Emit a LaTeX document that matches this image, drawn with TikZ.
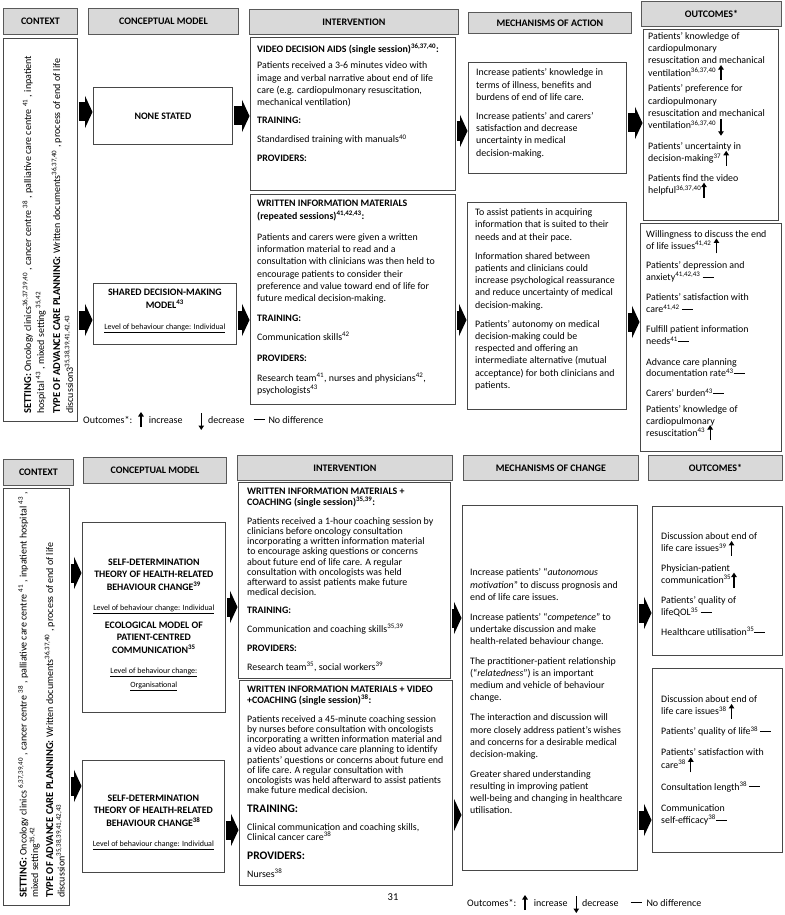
\documentclass[tikz,border=0pt]{standalone}
\usepackage{fontspec}
\setmainfont{Carlito}
\usetikzlibrary{arrows.meta,calc}
\newcommand\upA{\smash{\tikz[baseline=0pt]\draw[line width=1.1pt,-{Triangle[length=4.5pt,width=5.5pt]}](0pt,-4pt)--(0pt,11pt);}}
\newcommand\dnA{\smash{\tikz[baseline=0pt]\draw[line width=1.1pt,-{Triangle[length=4.5pt,width=5.5pt]}](0pt,10pt)--(0pt,-7pt);}}
\newcommand\ndA{\rule[3pt]{11pt}{0.8pt}}
\newcommand\sps[1]{\textsuperscript{#1}}
\newcommand\lvl[1]{{\mdseries\fontsize{8}{10}\selectfont\underline{#1}}}
\begin{document}
\begin{tikzpicture}[x=1pt,y=-1pt,
  hdr/.style={draw=gray!70!black, fill=gray!30, line width=0.9pt, inner sep=0pt, anchor=north west, font=\fontsize{10}{12}\selectfont\bfseries},
  bx/.style={draw=black!72, line width=0.75pt, inner sep=0pt, anchor=north west},
  txt/.style={anchor=north west, align=left, inner sep=0pt, font=\fontsize{9.9}{12.3}\selectfont},
  txtb/.style={anchor=north west, align=left, inner sep=0pt, font=\fontsize{9.9}{10.2}\selectfont},
  ctr/.style={align=center, inner sep=0pt, font=\fontsize{9.9}{12.4}\selectfont\bfseries},
  ctxt/.style={rotate=90, anchor=north west, align=left, inner sep=0pt, font=\fontsize{10}{13}\selectfont},
  blk/.style={line width=19pt, -{Triangle[length=7.5pt,width=32pt]}, black, shorten <=1pt, shorten >=0.5pt}]
\fill[white] (0,0) rectangle (784,915);
\useasboundingbox (0,0) rectangle (784,915);

% ---------------- TOP HEADERS ----------------
\node[hdr, minimum width=74pt, minimum height=26pt] (hC1) at (3,8) {CONTEXT};
\node[hdr, minimum width=150pt, minimum height=26pt] (hM1) at (88,8) {CONCEPTUAL MODEL};
\node[hdr, minimum width=209pt, minimum height=25pt] (hI1) at (249,9) {INTERVENTION};
\node[hdr, minimum width=163pt, minimum height=21pt] (hA1) at (468,12) {MECHANISMS OF ACTION};
\node[hdr, minimum width=140pt, minimum height=25pt] (hO1) at (641,1) {OUTCOMES*};

% ---------------- TOP BOXES ----------------
\node[bx, minimum width=74pt, minimum height=383pt] (ctx1) at (3,38) {};
\node[bx, minimum width=139pt, minimum height=57pt] (cm1a) at (93,87) {};
\node[bx, minimum width=143pt, minimum height=61pt] (cm1b) at (93,283) {};
\node[bx, minimum width=205pt, minimum height=153pt] (in1a) at (250,37) {};
\node[bx, minimum width=205pt, minimum height=210pt] (in1b) at (250,194) {};
\node[bx, minimum width=158pt, minimum height=111pt] (me1a) at (468,62) {};
\node[bx, minimum width=159pt, minimum height=207pt] (me1b) at (467,202) {};
\node[bx, minimum width=135pt, minimum height=191pt] (ou1a) at (643,29) {};
\node[bx, minimum width=141pt, minimum height=228pt] (ou1b) at (640,223) {};

% top context text
\node[ctxt] (tctx1) at (22.5,414) {{\fontsize{10.5}{13}\selectfont\bfseries SETTING:} Oncology clinics\sps{36,37,39,40} , cancer centre \sps{38} , palliative care centre \sps{41} , inpatient\\
hospital \sps{43} , mixed setting \sps{35,42}\\[3pt]
{\fontsize{10.5}{13}\selectfont\bfseries TYPE OF ADVANCE CARE PLANNING:} Written documents\sps{36,37,40} , process of end of life\\
discussion3\sps{35,38,39,41,42,43}};

% conceptual model texts
\node[ctr] (tcm1a) at (cm1a.center) {NONE STATED};
\node[ctr] (tcm1b) at ($(cm1b.center)+(0,-3)$) {SHARED DECISION-MAKING\\ MODEL\sps{43}\\[8.6pt] \lvl{Level of behaviour change: Individual}};

% intervention texts
\node[txt] (tin1a) at ($(in1a.north west)+(7,6.5)$) {\textbf{VIDEO DECISION AIDS (single session)\sps{36,37,40}:}\\[4.6pt]
Patients received a 3-6 minutes video with\\
image and verbal narrative about end of life\\
care (e.g. cardiopulmonary resuscitation,\\
mechanical ventilation)\\[5.6pt]
\textbf{TRAINING:}\\[6.6pt]
Standardised training with manuals\sps{40}\\[6.6pt]
\textbf{PROVIDERS:}};
\node[txt] (tin1b) at ($(in1b.north west)+(7,5.6)$) {\textbf{WRITTEN INFORMATION MATERIALS}\\[0.7pt]
\textbf{(repeated sessions)\sps{41,42,43}:}\\[8.6pt]
Patients and carers were given a written\\
information material to read and a\\
consultation with clinicians was then held to\\
encourage patients to consider their\\
preference and value toward end of life for\\
future medical decision-making.\\[7.6pt]
\textbf{TRAINING:}\\[6.6pt]
Communication skills\sps{42}\\[8.6pt]
\textbf{PROVIDERS:}\\[7.6pt]
Research team\sps{41}, nurses and physicians\sps{42},\\
psychologists\sps{43}};

% mechanisms texts
\node[txt] (tme1a) at ($(me1a.north west)+(8,6.6)$) {Increase patients’ knowledge in\\
terms of illness, benefits and\\
burdens of end of life care.\\[6.5pt]
Increase patients’ and carers’\\
satisfaction and decrease\\
uncertainty in medical\\
decision-making.};
\node[txt] (tme1b) at ($(me1b.north west)+(8,6.6)$) {To assist patients in acquiring\\
information that is suited to their\\
needs and at their pace.\\[6.5pt]
Information shared between\\
patients and clinicians could\\
increase psychological reassurance\\
and reduce uncertainty of medical\\
decision-making.\\[6.5pt]
Patients’ autonomy on medical\\
decision-making could be\\
respected and offering an\\
intermediate alternative (mutual\\
acceptance) for both clinicians and\\
patients.};

% outcome texts
\node[txt] (tou1a) at ($(ou1a.north west)+(5,3)$) {Patients’ knowledge of\\
cardiopulmonary\\
resuscitation and mechanical\\
ventilation\sps{36,37,40}\ \upA\\[3.5pt]
Patients’ preference for\\
cardiopulmonary\\
resuscitation and mechanical\\
ventilation\sps{36,37,40}\ \dnA\\[8.4pt]
Patients’ uncertainty in\\
decision-making\sps{37}\ \upA\\[7.3pt]
Patients find the video\\
helpful\sps{36,37,40}\upA};
\node[txt, font=\fontsize{9.9}{11.8}\selectfont] (tou1b) at ($(ou1b.north west)+(6,7.6)$) {Willingness to discuss the end\\
of life issues\sps{41,42}\ \upA\\[7.5pt]
Patients’ depression and\\
anxiety\sps{41,42,43}\ \ndA\\[8.5pt]
Patients’ satisfaction with\\
care\sps{41,42}\ \ndA\\[8.5pt]
Fulfill patient information\\
needs\sps{41}\ndA\\[8.5pt]
Advance care planning\\
documentation rate\sps{43}\ndA\\[8pt]
Carers’ burden\sps{43}\ndA\\[4pt]
Patients’ knowledge of\\
cardiopulmonary\\
resuscitation\sps{43}\ \upA};

% top legend
\node[anchor=base west, inner sep=0pt, font=\fontsize{10}{12}\selectfont] (leg1) at (83,423) {Outcomes*:\hspace{6pt}\upA\hspace{5pt}increase\hspace{16pt}\dnA\hspace{4pt}decrease\hspace{9pt}\ndA\hspace{4pt}No difference};

% top block arrows
\draw[blk] (ctx1.east |- 0,112) -- (cm1a.west |- 0,112);
\draw[blk] (ctx1.east |- 0,320) -- (cm1b.west |- 0,320);
\draw[blk] (cm1a.east |- 0,116) -- (in1a.west |- 0,116);
\draw[blk] (cm1b.east |- 0,320) -- (in1b.west |- 0,320);
\draw[blk] (in1a.east |- 0,131) -- (me1a.west |- 0,131);
\draw[blk] (in1b.east |- 0,320) -- (me1b.west |- 0,320);
\draw[blk] (me1a.east |- 0,123) -- (ou1a.west |- 0,123);
\draw[blk] (me1b.east |- 0,322) -- (ou1b.west |- 0,322);

% ---------------- BOTTOM HEADERS ----------------
\node[hdr, minimum width=70pt, minimum height=26pt] (hC2) at (3,459) {CONTEXT};
\node[hdr, minimum width=143pt, minimum height=26pt] (hM2) at (83,457) {CONCEPTUAL MODEL};
\node[hdr, minimum width=215pt, minimum height=25pt] (hI2) at (237,455) {INTERVENTION};
\node[hdr, minimum width=175pt, minimum height=25pt] (hA2) at (463,455) {MECHANISMS OF CHANGE};
\node[hdr, minimum width=134pt, minimum height=25pt] (hO2) at (648,455) {OUTCOMES*};

% ---------------- BOTTOM BOXES ----------------
\node[bx, minimum width=66pt, minimum height=417pt] (ctx2) at (3,488) {};
\node[bx, minimum width=143pt, minimum height=190pt] (cm2a) at (82,522) {};
\node[bx, minimum width=142pt, minimum height=112pt] (cm2b) at (82,760) {};
\node[bx, minimum width=212pt, minimum height=196pt] (in2a) at (238,482) {};
\node[bx, minimum width=213pt, minimum height=205pt] (in2b) at (239,680) {};
\node[bx, minimum width=175pt, minimum height=365pt] (me2) at (462,505) {};
\node[bx, minimum width=130pt, minimum height=149pt] (ou2a) at (652,506) {};
\node[bx, minimum width=130pt, minimum height=184pt] (ou2b) at (652,668) {};

% bottom context text
\node[ctxt, font=\fontsize{10}{11.5}\selectfont] (tctx2) at (18,898) {{\fontsize{10.5}{11.5}\selectfont\bfseries SETTING:} Oncology clinics \sps{6,37,39,40} , cancer centre \sps{38} , palliative care centre \sps{41} , inpatient hospital \sps{43} ,\\
mixed setting\sps{35,42}\\[3.5pt]
{\fontsize{10.5}{11.5}\selectfont\bfseries TYPE OF ADVANCE CARE PLANNING:} Written documents\sps{36,37,40} , process of end of life\\
discussion\sps{35,38,39,41,42,43}};

% bottom conceptual texts
\node[ctr, anchor=north] (tcm2a) at ($(cm2a.north)+(0,36.6)$) {SELF-DETERMINATION\\ THEORY OF HEALTH-RELATED\\ BEHAVIOUR CHANGE\sps{39}\\[7.8pt]
\lvl{Level of behaviour change: Individual}\\[5.6pt]
ECOLOGICAL MODEL OF\\ PATIENT-CENTRED\\ COMMUNICATION\sps{35}\\[7.8pt]
\lvl{Level of behaviour change:}\\[1.6pt] \lvl{Organisational}};
\node[ctr, anchor=north] (tcm2b) at ($(cm2b.north)+(0,34.6)$) {SELF-DETERMINATION\\ THEORY OF HEALTH-RELATED\\ BEHAVIOUR CHANGE\sps{38}\\[7.6pt]
\lvl{Level of behaviour change: Individual}};

% bottom intervention texts
\node[txtb] (tin2a) at ($(in2a.north west)+(9,5.6)$) {\textbf{WRITTEN INFORMATION MATERIALS +}\\[0.8pt]
\textbf{COACHING (single session)\sps{35,39}:}\\[8.8pt]
Patients received a 1-hour coaching session by\\
clinicians before oncology consultation\\
incorporating a written information material\\
to encourage asking questions or concerns\\
about future end of life care. A regular\\
consultation with oncologists was held\\
afterward to assist patients make future\\
medical decision.\\[7.4pt]
\textbf{TRAINING:}\\[8.8pt]
Communication and coaching skills\sps{35,39}\\[8.8pt]
\textbf{PROVIDERS:}\\[8.8pt]
Research team\sps{35}, social workers\sps{39}};
\node[txtb] (tin2b) at ($(in2b.north west)+(8,5.6)$) {\textbf{WRITTEN INFORMATION MATERIALS + VIDEO}\\[0.8pt]
\textbf{+COACHING (single session)\sps{38}:}\\[8.8pt]
Patients received a 45-minute coaching session\\
by nurses before consultation with oncologists\\
incorporating a written information material and\\
a video about advance care planning to identify\\
patients’ questions or concerns about future end\\
of life care. A regular consultation with\\
oncologists was held afterward to assist patients\\
make future medical decision.\\[8.4pt]
{\fontsize{11.5}{12}\selectfont\bfseries TRAINING:}\\[7.8pt]
Clinical communication and coaching skills,\\
Clinical cancer care\sps{38}\\[8.8pt]
{\fontsize{11.5}{12}\selectfont\bfseries PROVIDERS:}\\[7.8pt]
Nurses\sps{38}};

% bottom mechanisms text
\node[txt, font=\fontsize{9.9}{12.1}\selectfont] (tme2) at ($(me2.north west)+(8,63.6)$) {Increase patients’ “\textit{autonomous}\\
\textit{motivation}” to discuss prognosis and\\
end of life care issues.\\[8pt]
Increase patients’ “\textit{competence}” to\\
undertake discussion and make\\
health-related behaviour change.\\[8pt]
The practitioner-patient relationship\\
(“\textit{relatedness}”) is an important\\
medium and vehicle of behaviour\\
change.\\[8pt]
The interaction and discussion will\\
more closely address patient’s wishes\\
and concerns for a desirable medical\\
decision-making.\\[8pt]
Greater shared understanding\\
resulting in improving patient\\
well-being and changing in healthcare\\
utilisation.};

% bottom outcomes texts
\node[txt] (tou2a) at ($(ou2a.north west)+(9,26.6)$) {Discussion about end of\\
life care issues\sps{39}\ \upA\\[7pt]
Physician-patient\\
communication\sps{35}\upA\\[7.5pt]
Patients’ quality of\\
lifeQOL\sps{35}\ \ndA\\[7.5pt]
Healthcare utilisation\sps{35}\ndA};
\node[txt] (tou2b) at ($(ou2b.north west)+(9,27.6)$) {Discussion about end of\\
life care issues\sps{38}\ \upA\\[7.7pt]
Patients’ quality of life\sps{38}\ \ndA\\[8.7pt]
Patients’ satisfaction with\\
care\sps{38}\ \upA\\[9.7pt]
Consultation length\sps{38}\ \ndA\\[8.7pt]
Communication\\
self-efficacy\sps{38}\ndA};

% bottom legend and page number
\node[anchor=base west, inner sep=0pt, font=\fontsize{10}{12}\selectfont] (leg2) at (467,906) {Outcomes*:\hspace{6pt}\upA\hspace{6pt}increase\hspace{6pt}\dnA\hspace{3pt}decrease\hspace{12pt}\ndA\hspace{5pt}No difference};
\node[inner sep=0pt, font=\fontsize{10.5}{12}\selectfont] (pg) at (393,897) {31};

% bottom block arrows
\draw[blk] (ctx2.east |- 0,573) -- (cm2a.west |- 0,573);
\draw[blk] (ctx2.east |- 0,786) -- (cm2b.west |- 0,786);
\draw[blk] (cm2a.east |- 0,607) -- (in2a.west |- 0,607);
\draw[blk] (cm2b.east |- 0,830) -- (in2b.west |- 0,830);
\draw[blk] (in2a.east |- 0,618) -- (me2.west |- 0,618);
\draw[blk] (in2b.east |- 0,815) -- (me2.west |- 0,815);
\draw[blk] (me2.east |- 0,613) -- (ou2a.west |- 0,613);
\draw[blk] (me2.east |- 0,820) -- (ou2b.west |- 0,820);
\end{tikzpicture}
\end{document}
